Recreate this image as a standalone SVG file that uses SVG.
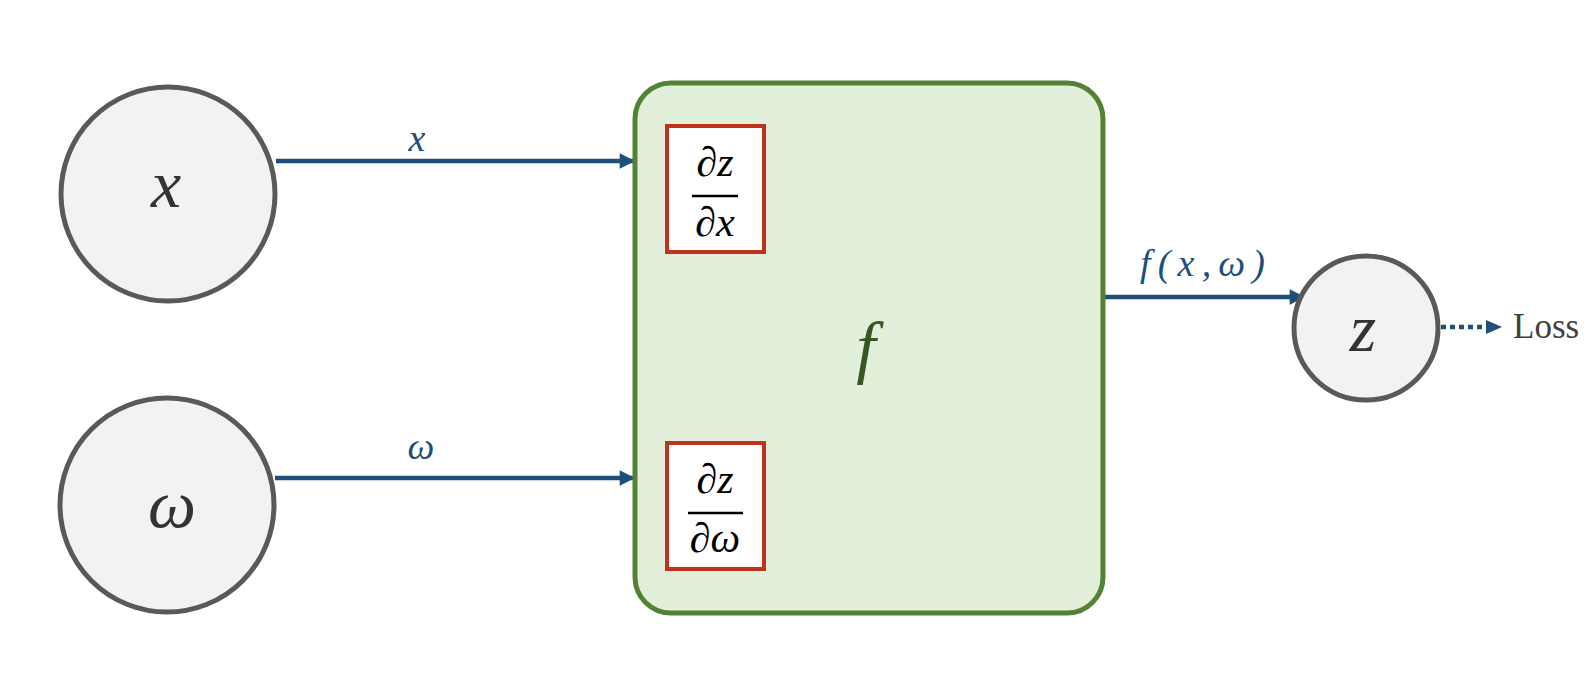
<svg xmlns="http://www.w3.org/2000/svg" width="1596" height="686" viewBox="0 0 1596 686">
<style>
.node{fill:#f2f2f2;stroke:#595959;stroke-width:5}
.math{font-family:"Liberation Serif","DejaVu Serif",serif;font-style:italic}
.lbl{fill:#1f4e79}
.conn{stroke:#1f4e79;stroke-width:4.5;fill:none}
.dbox{fill:#ffffff;stroke:#c0321a;stroke-width:4}
.frac{font-family:"Liberation Serif","DejaVu Serif",serif;font-style:italic;font-size:42px;fill:#000;text-anchor:middle}
</style>
<defs>
<marker id="ah" viewBox="0 0 10 10" refX="10" refY="5" markerWidth="3.6" markerHeight="3.4" orient="auto" markerUnits="strokeWidth">
<path d="M0,0 L10,5 L0,10 z" fill="#1f4e79"/>
</marker>
</defs>
<rect width="1596" height="686" fill="#ffffff"/>
<g id="connectors">
<line class="conn" x1="276" y1="161" x2="635" y2="161" marker-end="url(#ah)"/>
<text class="math lbl" x="417" y="151" font-size="38" text-anchor="middle">x</text>
<line class="conn" x1="275" y1="478" x2="635" y2="478" marker-end="url(#ah)"/>
<text class="math lbl" x="421" y="459" font-size="38" text-anchor="middle">ω</text>
<line class="conn" x1="1103" y1="297" x2="1305" y2="297" marker-end="url(#ah)"/>
<text class="math lbl" x="1140" y="276" font-size="38" textLength="125" lengthAdjust="spacing">f(x,ω)</text>
<line x1="1441" y1="327" x2="1488" y2="327" stroke="#1f4e79" stroke-width="4.5" stroke-dasharray="5,4"/>
<path d="M1486,320 L1502,327 L1486,334 z" fill="#1f4e79"/>
<text x="1513" y="338" font-family="Liberation Serif,serif" font-size="35" fill="#404040">Loss</text>
</g>
<g id="node-x">
<circle class="node" cx="168" cy="194" r="107"/>
<text class="math" x="166" y="207" font-size="68" fill="#333" text-anchor="middle">x</text>
</g>
<g id="node-w">
<circle class="node" cx="167" cy="505" r="107"/>
<text class="math" x="172" y="527" font-size="68" fill="#333" text-anchor="middle">ω</text>
</g>
<g id="node-f">
<rect x="635" y="83" width="468" height="530" rx="36" fill="#e2efda" stroke="#548235" stroke-width="5"/>
<text class="math" x="866" y="370" font-size="70" fill="#375623" text-anchor="middle">f</text>
</g>
<g id="grad-x">
<rect class="dbox" x="667" y="126" width="97" height="126"/>
<text class="frac" x="715" y="176">∂z</text>
<line x1="692" y1="196" x2="738" y2="196" stroke="#000" stroke-width="2.5"/>
<text class="frac" x="715" y="236">∂x</text>
</g>
<g id="grad-w">
<rect class="dbox" x="667" y="443" width="97" height="126"/>
<text class="frac" x="715" y="493">∂z</text>
<line x1="688" y1="513" x2="743" y2="513" stroke="#000" stroke-width="2.5"/>
<text class="frac" x="715" y="552">∂ω</text>
</g>
<g id="node-z">
<circle class="node" cx="1366" cy="328" r="72"/>
<text class="math" x="1363" y="351" font-size="68" fill="#333" text-anchor="middle">z</text>
</g>
</svg>
